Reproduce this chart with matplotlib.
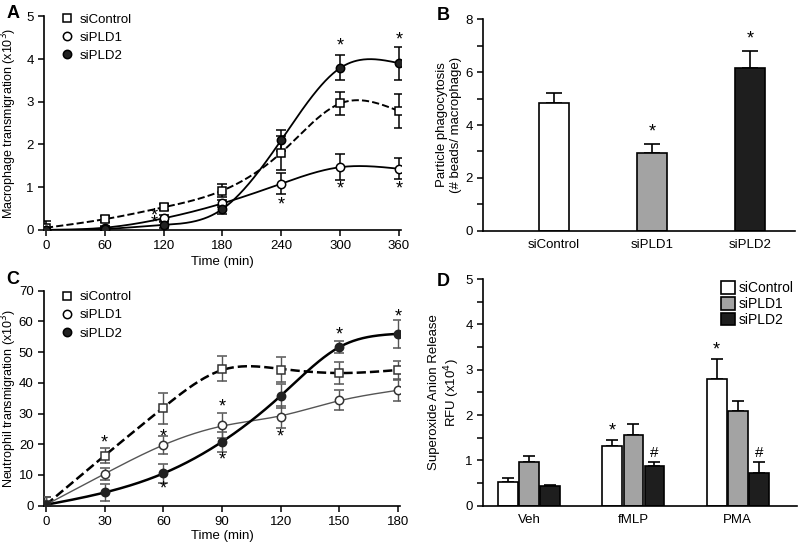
import numpy as np
import matplotlib
matplotlib.use("Agg")
import matplotlib.pyplot as plt
from matplotlib.patches import Patch
from matplotlib.lines import Line2D

plt.rcParams['font.family'] = ['Liberation Sans', 'DejaVu Sans']
plt.rcParams['font.size'] = 9

# ---------------- Data ----------------
# Panel A: macrophage transmigration (x10^3)
time_a = [0, 60, 120, 180, 240, 300, 360]
a_ctrl = [0.05, 0.25, 0.53, 0.92, 1.80, 2.97, 2.78]
a_ctrl_err = [0.15, 0.07, 0.07, 0.15, 0.40, 0.27, 0.40]
a_pld1 = [0.0, 0.05, 0.27, 0.62, 1.08, 1.47, 1.43]
a_pld1_err = [0.05, 0.05, 0.07, 0.08, 0.25, 0.30, 0.25]
a_pld2 = [0.0, 0.02, 0.12, 0.48, 2.10, 3.80, 3.90]
a_pld2_err = [0.05, 0.05, 0.07, 0.10, 0.25, 0.30, 0.38]
a_stars_x = [110, 110, 240, 300, 300, 360, 360]
a_stars_y = [0.33, 0.15, 0.58, 4.30, 0.95, 4.45, 0.95]

# Panel B: particle phagocytosis
b_cats = ['siControl', 'siPLD1', 'siPLD2']
b_vals = [4.83, 2.95, 6.17]
b_err = [0.37, 0.32, 0.63]
b_stars = ['', '*', '*']

# Panel C: neutrophil transmigration (x10^3)
time_c = [0, 30, 60, 90, 120, 150, 180]
c_ctrl = [0.3, 16.3, 31.7, 44.6, 44.3, 43.1, 44.2]
c_ctrl_err = [2.5, 2.5, 5.0, 4.0, 4.0, 3.5, 3.0]
c_pld1 = [0.3, 10.3, 19.8, 26.1, 28.9, 34.4, 37.5]
c_pld1_err = [2.5, 2.0, 3.0, 4.0, 3.5, 3.3, 3.5]
c_pld2 = [0.3, 4.3, 10.5, 20.8, 35.7, 51.7, 55.9]
c_pld2_err = [2.5, 2.8, 3.2, 3.2, 4.0, 2.0, 4.5]
c_stars_x = [30, 60, 60, 90, 90, 120, 150, 180]
c_stars_y = [20.5, 22.5, 5.5, 32.0, 15.0, 22.5, 55.5, 61.5]

# Panel D: superoxide anion release RFU (x10^4)
d_groups = ['Veh', 'fMLP', 'PMA']
d_series = ['siControl', 'siPLD1', 'siPLD2']
d_ctrl = [0.53, 1.32, 2.80]
d_ctrl_err = [0.08, 0.12, 0.43]
d_pld1 = [0.97, 1.55, 2.10]
d_pld1_err = [0.12, 0.25, 0.22]
d_pld2 = [0.43, 0.87, 0.72]
d_pld2_err = [0.03, 0.09, 0.25]
d_ctrl_marks = ['', '*', '*']
d_pld2_marks = ['', '#', '#']

# ---------------- Helpers ----------------
def smooth_curve(x, y, lam, n=361):
    """Penalised (cubic smoothing-spline style) fit of the data."""
    x = np.asarray(x, float); y = np.asarray(y, float)
    xs = np.linspace(x.min(), x.max(), n)
    t = (xs - xs[0]) / (xs[-1] - xs[0]); h = t[1] - t[0]
    scale = np.max(np.abs(y))
    B = np.zeros((len(x), n))
    for i, xi in enumerate(x):
        B[i, np.argmin(np.abs(xs - xi))] = 1.0
    D = np.diff(np.eye(n), 2, axis=0) / h ** 2
    M = B.T @ B + lam * h * (D.T @ D)
    yg = np.linalg.solve(M, B.T @ (y / scale))
    return xs, yg * scale

def style_axes(ax):
    for s in ['top', 'right']:
        ax.spines[s].set_visible(False)
    for s in ['left', 'bottom']:
        ax.spines[s].set_linewidth(1.2)
    ax.tick_params(direction='out', length=4, width=1.1, labelsize=9.5)

fig = plt.figure(figsize=(8, 5.46), dpi=100)

mk_handles = lambda: [
    Line2D([], [], ls='none', marker='s', ms=5.5, mfc='white', mec='black', mew=1.1),
    Line2D([], [], ls='none', marker='o', ms=6, mfc='white', mec='black', mew=1.1),
    Line2D([], [], ls='none', marker='o', ms=6, mfc='#222222', mec='black', mew=1.1)]

# ---------------- Panel A ----------------
axA = fig.add_axes([0.055, 0.579, 0.446, 0.391])
style_axes(axA)
ek = dict(capsize=3.5, elinewidth=1.1, capthick=1.1, ecolor='black', linestyle='none', zorder=3)
xs, ys = smooth_curve(time_a, a_ctrl, 1e-5)
axA.plot(xs, ys, 'k--', lw=1.4, zorder=2)
xs, ys = smooth_curve(time_a, a_pld1, 1e-5)
axA.plot(xs, ys, 'k-', lw=1.3, zorder=2)
xs, ys = smooth_curve(time_a, a_pld2, 1e-5)
axA.plot(xs, ys, 'k-', lw=1.3, zorder=2)
axA.errorbar(time_a, a_ctrl, yerr=a_ctrl_err, marker='s', ms=5.5, mfc='white', mec='black', mew=1.1, **ek)
axA.errorbar(time_a, a_pld1, yerr=a_pld1_err, marker='o', ms=6, mfc='white', mec='black', mew=1.1, **ek)
axA.errorbar(time_a, a_pld2, yerr=a_pld2_err, marker='o', ms=6, mfc='#222222', mec='black', mew=1.1, **ek)
for x, y in zip(a_stars_x, a_stars_y):
    axA.text(x, y, '*', ha='center', va='center', fontsize=13, clip_on=False)
axA.set_xlim(-2, 362)
axA.set_ylim(0, 5)
axA.set_xticks(time_a)
axA.set_yticks([0, 1, 2, 3, 4, 5])
axA.set_xlabel('Time (min)', fontsize=9.5, labelpad=3)
axA.set_ylabel('Macrophage transmigration (x10$^3$)', fontsize=9)
axA.yaxis.set_label_coords(-0.07, 0.5)
axA.legend(mk_handles(), ['siControl', 'siPLD1', 'siPLD2'], loc='upper left', bbox_to_anchor=(0.01, 1.07),
           frameon=False, fontsize=9.5, handletextpad=0.3, labelspacing=0.45, handlelength=1.2)
fig.text(0.008, 0.975, 'A', fontsize=13, fontweight='bold', va='center')

# ---------------- Panel B ----------------
axB = fig.add_axes([0.604, 0.5775, 0.39, 0.387])
style_axes(axB)
bx = np.arange(len(b_cats))
bcol = ['white', '#a3a3a3', '#1e1e1e']
axB.bar(bx, b_vals, width=0.3, color=bcol, edgecolor='black', linewidth=1.2, zorder=2)
axB.errorbar(bx, b_vals, yerr=[np.zeros(3), b_err], fmt='none', ecolor='black',
             elinewidth=1.2, capsize=6, capthick=1.2, zorder=1)
for x, v, e, s in zip(bx, b_vals, b_err, b_stars):
    if s:
        axB.text(x, v + e + 0.45, s, ha='center', va='center', fontsize=13)
axB.set_xlim(-0.72, 2.46)
axB.set_ylim(0, 8)
axB.set_xticks(bx)
axB.set_xticklabels(b_cats)
axB.tick_params(axis='x', length=0, pad=6)
axB.set_yticks([0, 2, 4, 6, 8])
axB.set_yticks([1, 3, 5, 7], minor=True)
axB.tick_params(axis='y', which='minor', direction='out', length=4, width=1.1)
axB.set_ylabel('Particle phagocytosis\n(# beads/ macrophage)', fontsize=9.5)
axB.yaxis.set_label_coords(-0.067, 0.5)
fig.text(0.546, 0.972, 'B', fontsize=13, fontweight='bold', va='center')

# ---------------- Panel C ----------------
axC = fig.add_axes([0.055, 0.0738, 0.445, 0.394])
style_axes(axC)
ekc = dict(capsize=3.5, elinewidth=1.0, capthick=1.0, ecolor='#555555', linestyle='none', zorder=3)
xs, ys = smooth_curve(time_c, c_ctrl, 6e-5)
axC.plot(xs, ys, 'k--', lw=1.8, zorder=2)
xs, ys = smooth_curve(time_c, c_pld1, 1e-4)
axC.plot(xs, ys, '-', color='#555555', lw=1.0, zorder=2)
xs, ys = smooth_curve(time_c, c_pld2, 1e-5)
axC.plot(xs, ys, 'k-', lw=1.8, zorder=2)
axC.errorbar(time_c, c_ctrl, yerr=c_ctrl_err, marker='s', ms=5.5, mfc='white', mec='#333333', mew=1.1, **ekc)
axC.errorbar(time_c, c_pld1, yerr=c_pld1_err, marker='o', ms=6, mfc='white', mec='#333333', mew=1.1, **ekc)
axC.errorbar(time_c, c_pld2, yerr=c_pld2_err, marker='o', ms=6, mfc='#222222', mec='#222222', mew=1.1, **ekc)
for x, y in zip(c_stars_x, c_stars_y):
    axC.text(x, y, '*', ha='center', va='center', fontsize=13, clip_on=False)
axC.set_xlim(-1, 181)
axC.set_ylim(0, 70)
axC.set_xticks(time_c)
axC.set_yticks(range(0, 71, 10))
axC.set_xlabel('Time (min)', fontsize=9.5, labelpad=1)
axC.set_ylabel('Neutrophil transmigration (x10$^3$)', fontsize=9)
axC.yaxis.set_label_coords(-0.07, 0.5)
axC.legend(mk_handles(), ['siControl', 'siPLD1', 'siPLD2'], loc='upper left', bbox_to_anchor=(0.01, 1.053),
           frameon=False, fontsize=9.5, handletextpad=0.3, labelspacing=0.45, handlelength=1.2)
fig.text(0.008, 0.488, 'C', fontsize=13, fontweight='bold', va='center')

# ---------------- Panel D ----------------
axD = fig.add_axes([0.604, 0.0738, 0.3925, 0.415])
style_axes(axD)
gx = np.arange(len(d_groups))
w = 0.19
dcol = ['white', '#a3a3a3', '#1e1e1e']
vals = [d_ctrl, d_pld1, d_pld2]
errs = [d_ctrl_err, d_pld1_err, d_pld2_err]
for i, (v, e, c) in enumerate(zip(vals, errs, dcol)):
    xp = gx + (i - 1) * (w + 0.012)
    axD.bar(xp, v, width=w, color=c, edgecolor='black', linewidth=1.2, zorder=2)
    axD.errorbar(xp, v, yerr=[np.zeros(3), e], fmt='none', ecolor='black',
                 elinewidth=1.2, capsize=4, capthick=1.2, zorder=1)
for g, v, e, m in zip(gx, d_ctrl, d_ctrl_err, d_ctrl_marks):
    if m:
        axD.text(g - (w + 0.012), v + e + 0.2, m, ha='center', va='center', fontsize=13)
for g, v, e, m in zip(gx, d_pld2, d_pld2_err, d_pld2_marks):
    if m:
        axD.text(g + (w + 0.012), v + e + 0.2, m, ha='center', va='center', fontsize=11)
axD.set_xlim(-0.44, 2.57)
axD.set_ylim(0, 5)
axD.set_xticks(gx)
axD.set_xticklabels(d_groups)
axD.tick_params(axis='x', length=0, pad=6)
axD.set_yticks([0, 1, 2, 3, 4, 5])
axD.set_yticks(np.arange(0.5, 5, 1.0), minor=True)
axD.tick_params(axis='y', which='minor', direction='out', length=4, width=1.1)
axD.set_ylabel('Superoxide Anion Release\nRFU (x10$^4$)', fontsize=9.5)
axD.yaxis.set_label_coords(-0.067, 0.5)
lh = [Patch(facecolor=c, edgecolor='black', linewidth=1.2) for c in dcol]
axD.legend(lh, d_series, loc='upper right', bbox_to_anchor=(1.03, 1.045), frameon=False, fontsize=10,
           handlelength=1.0, handleheight=1.0, handletextpad=0.3, labelspacing=0.12)
fig.text(0.546, 0.484, 'D', fontsize=13, fontweight='bold', va='center')

fig.savefig('out.png', dpi=100)
